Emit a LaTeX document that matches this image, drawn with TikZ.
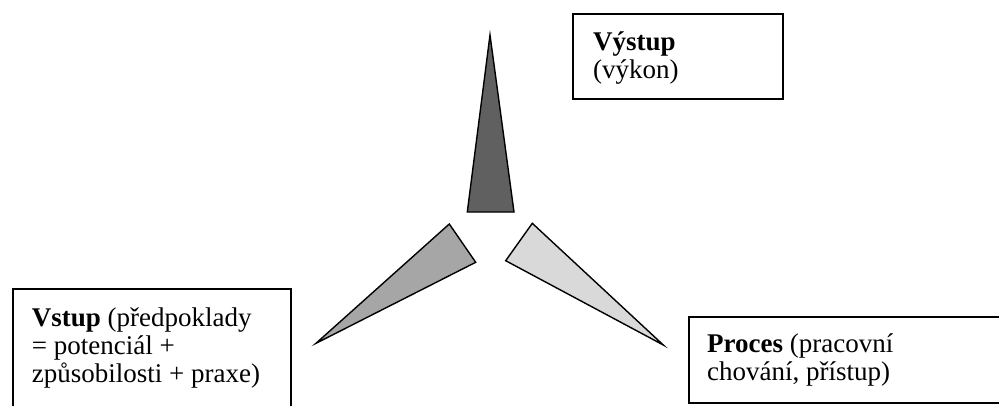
\documentclass[tikz,border=0pt]{standalone}
\usepackage{fontspec}
\setmainfont{Liberation Serif}
\definecolor{bladedark}{RGB}{96,96,96}
\definecolor{blademid}{RGB}{166,166,166}
\definecolor{bladelight}{RGB}{217,217,217}
\begin{document}
\begin{tikzpicture}[x=1pt,y=-1pt,
  frame/.style={draw=black, line width=1.8pt, inner sep=0pt, anchor=north west},
  blade/.style={draw=black, line width=1.4pt, line join=miter},
  % anchored at the baseline of the last line
  caption/.style={anchor=base west, inner sep=0pt, align=left,
    font=\fontsize{27}{28}\selectfont},
]
\useasboundingbox (0,0) rectangle (999,405);
\clip (0,0) rectangle (999,405);

% three blades
\filldraw[blade, fill=bladedark]  (490,35) -- (514,212) -- (467.3,212) -- cycle;
\filldraw[blade, fill=blademid]   (449.3,224) -- (475.7,262.3) -- (316,343.3) -- cycle;
\filldraw[blade, fill=bladelight] (532.3,223.3) -- (663.3,345) -- (505.7,260.7) -- cycle;

% boxes
\node[frame, minimum width=209.4pt, minimum height=85pt] (outbox) at (572.3,13.3) {};
\node[frame, minimum width=278.3pt, minimum height=140pt] (inbox) at (11.7,288.3) {};
\node[frame, minimum width=340pt, minimum height=86.6pt] (procbox) at (688.3,315.7) {};

% texts
\node[caption] (outtext) at (593,78) {\textbf{Výstup}\\(výkon)};
\node[caption] (intext) at (31.7,382.5) {\textbf{Vstup} (předpoklady\\= potenciál +\\způsobilosti + praxe)};
\node[caption] (proctext) at (707,380) {\textbf{Proces} (pracovní\\chování, přístup)};
\end{tikzpicture}
\end{document}
